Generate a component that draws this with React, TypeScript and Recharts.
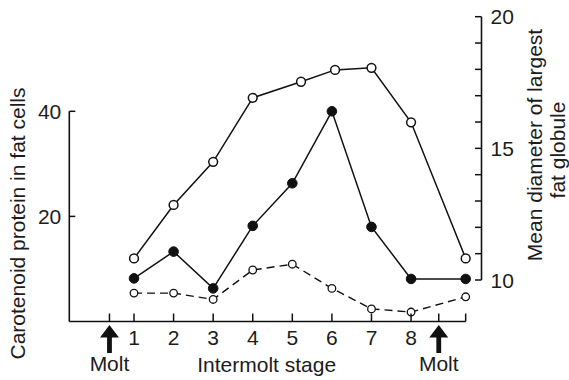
import React from 'react';
import { ComposedChart, Line, XAxis, YAxis, ReferenceLine } from 'recharts';

// Intermolt stages on the horizontal axis
const stageTicks = [1, 2, 3, 4, 5, 6, 7, 8];
const moltStages = [0.38, 8.7];
const lastStage = 9.38;
const xDomain: [number, number] = [-0.635, 9.78];

// Mean diameter of largest fat globule (right axis)
const globuleStages = [1, 2, 3, 4, 5.22, 6.08, 7, 8, 9.38];
const globuleDiameter = [10.82, 12.85, 14.49, 16.92, 17.53, 17.98, 18.06, 15.99, 10.82];

// Carotenoid protein in fat cells (left axis)
const proteinStages = [1, 2, 3, 4, 5, 6, 7, 8, 9.38];
const proteinFatCells = [8.2, 13.3, 6.3, 18.2, 26.3, 40, 18.0, 8.1, 8.1];

// Dashed series (left axis)
const dashedStages = [1, 2, 3, 4, 5, 6, 7, 8, 9.38];
const dashedValues = [5.4, 5.4, 4.2, 9.8, 10.9, 6.3, 2.4, 1.8, 4.7];

const leftTicks = [20, 40];
const leftDomain: [number, number] = [0, 58];
const rightTicks = [10, 11, 12, 13, 14, 15, 16, 17, 18, 19, 20];
const rightLabelTicks = [10, 15, 20];
const rightDomain: [number, number] = [8.424, 20];

const toPoints = (xs: number[], ys: number[]) => xs.map((s, i) => ({ stage: s, value: ys[i] }));
const globuleData = toPoints(globuleStages, globuleDiameter);
const proteinData = toPoints(proteinStages, proteinFatCells);
const dashedData = toPoints(dashedStages, dashedValues);

const INK = '#111';
const TEXT = '#1c1c1c';
const FONT = '"Liberation Sans", Arial, Helvetica, sans-serif';
const FS = 21;

const StageTick = (props: any) => {
  const { x, y, payload } = props;
  const v = payload.value;
  const isStage = stageTicks.includes(v);
  const isMolt = moltStages.includes(v);
  return (
    <g>
      <line x1={x} y1={y} x2={x} y2={y - 8} stroke={INK} strokeWidth={1.5} />
      {isStage && (
        <text x={x} y={y + 23} textAnchor="middle" fontSize={FS} fontFamily={FONT} fill={TEXT}>
          {v}
        </text>
      )}
      {isMolt && (
        <g>
          <path
            d={`M${x} ${y + 3.5} L${x + 9.5} ${y + 16} L${x + 2.4} ${y + 16} L${x + 2.4} ${y + 31.5} L${x - 2.4} ${y + 31.5} L${x - 2.4} ${y + 16} L${x - 9.5} ${y + 16} Z`}
            fill={INK}
          />
          <text x={x} y={y + 49} textAnchor="middle" fontSize={FS} fontFamily={FONT} fill={TEXT}>
            Molt
          </text>
        </g>
      )}
    </g>
  );
};

const LeftTick = (props: any) => {
  const { x, y, payload } = props;
  return (
    <g>
      <line x1={x} y1={y} x2={x + 6} y2={y} stroke={INK} strokeWidth={1.5} />
      <text x={x - 8} y={y + 7.5} textAnchor="end" fontSize={FS} fontFamily={FONT} fill={TEXT}>
        {payload.value}
      </text>
    </g>
  );
};

const RightTick = (props: any) => {
  const { x, y, payload } = props;
  const v = payload.value;
  return (
    <g>
      <line x1={x} y1={y} x2={x - 6.5} y2={y} stroke={INK} strokeWidth={1.5} />
      {rightLabelTicks.includes(v) && (
        <text x={x + 9} y={y + 7.5} textAnchor="start" fontSize={FS} fontFamily={FONT} fill={TEXT}>
          {v}
        </text>
      )}
    </g>
  );
};

const LeftTitle = () => (
  <text
    transform="translate(25,223.5) rotate(-90)"
    textAnchor="middle"
    fontSize={FS}
    fontFamily={FONT}
    fill={TEXT}
  >
    Carotenoid protein in fat cells
  </text>
);

const RightTitle = () => (
  <g>
    <text transform="translate(542,145) rotate(-90)" textAnchor="middle" fontSize={FS} fontFamily={FONT} fill={TEXT}>
      Mean diameter of largest
    </text>
    <text transform="translate(565,150) rotate(-90)" textAnchor="middle" fontSize={FS} fontFamily={FONT} fill={TEXT}>
      fat globule
    </text>
  </g>
);

const BottomTitle = () => (
  <text x={266.7} y={372} textAnchor="middle" fontSize={FS} fontFamily={FONT} fill={TEXT}>
    Intermolt stage
  </text>
);

export default function App() {
  return (
    <div style={{ position: 'absolute', left: 0, top: 0, width: 569, height: 380, background: '#fff' }}>
      <ComposedChart width={569} height={380} margin={{ top: 16.7, right: 0, bottom: 0, left: 0 }}>
        <XAxis
          xAxisId="x"
          dataKey="stage"
          type="number"
          domain={xDomain}
          allowDataOverflow
          ticks={[...moltStages.slice(0, 1), ...stageTicks, ...moltStages.slice(1), lastStage]}
          interval={0}
          height={58.5}
          axisLine={false}
          tickLine={false}
          tickSize={0}
          tickMargin={0}
          tick={<StageTick />}
          label={<BottomTitle />}
        />
        <YAxis
          yAxisId="left"
          orientation="left"
          type="number"
          domain={leftDomain}
          allowDataOverflow
          ticks={leftTicks}
          interval={0}
          width={69.3}
          axisLine={false}
          tickLine={false}
          tickSize={0}
          tickMargin={0}
          tick={<LeftTick />}
          label={<LeftTitle />}
        />
        <YAxis
          yAxisId="right"
          orientation="right"
          type="number"
          domain={rightDomain}
          allowDataOverflow
          ticks={rightTicks}
          interval={0}
          width={87.5}
          axisLine={false}
          tickLine={false}
          tickSize={0}
          tickMargin={0}
          tick={<RightTick />}
          label={<RightTitle />}
        />

        {/* axis lines that cover only part of the plot */}
        <ReferenceLine
          xAxisId="x"
          yAxisId="left"
          ifOverflow="visible"
          segment={[{ x: xDomain[0], y: 0 }, { x: xDomain[0], y: 40 }]}
          stroke={INK}
          strokeWidth={1.6}
        />
        <ReferenceLine
          xAxisId="x"
          yAxisId="left"
          ifOverflow="visible"
          segment={[{ x: xDomain[0], y: 0 }, { x: lastStage, y: 0 }]}
          stroke={INK}
          strokeWidth={1.6}
        />
        <ReferenceLine
          xAxisId="x"
          yAxisId="right"
          ifOverflow="visible"
          segment={[{ x: xDomain[1], y: 10 }, { x: xDomain[1], y: 20 }]}
          stroke={INK}
          strokeWidth={1.6}
        />

        <Line
          xAxisId="x"
          yAxisId="left"
          data={dashedData}
          dataKey="value"
          type="linear"
          stroke={INK}
          strokeWidth={1.4}
          strokeDasharray="8 5"
          dot={{ r: 3.8, fill: '#fff', stroke: INK, strokeWidth: 1.3, strokeDasharray: 'none' }}
          activeDot={false}
          isAnimationActive={false}
        />
        <Line
          xAxisId="x"
          yAxisId="left"
          data={proteinData}
          dataKey="value"
          type="linear"
          stroke={INK}
          strokeWidth={1.5}
          dot={{ r: 4.8, fill: INK, stroke: INK, strokeWidth: 1 }}
          activeDot={false}
          isAnimationActive={false}
        />
        <Line
          xAxisId="x"
          yAxisId="right"
          data={globuleData}
          dataKey="value"
          type="linear"
          stroke={INK}
          strokeWidth={1.5}
          dot={{ r: 4.4, fill: '#fff', stroke: INK, strokeWidth: 1.5 }}
          activeDot={false}
          isAnimationActive={false}
        />
      </ComposedChart>
    </div>
  );
}
